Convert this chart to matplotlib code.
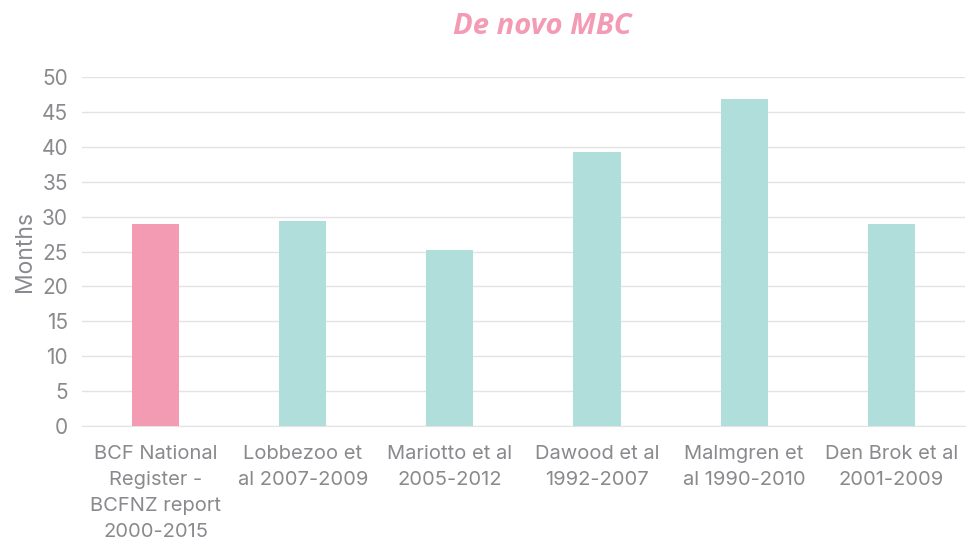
import matplotlib.pyplot as plt

# data
studies = ['BCF National\nRegister -\nBCFNZ report\n2000-2015',
           'Lobbezoo et\nal 2007-2009',
           'Mariotto et al\n2005-2012',
           'Dawood et al\n1992-2007',
           'Malmgren et\nal 1990-2010',
           'Den Brok et al\n2001-2009']
months = [29.0, 29.4, 25.2, 39.2, 46.9, 29.0]
bar_colors = ['#F49BB4', '#B0DFDB', '#B0DFDB', '#B0DFDB', '#B0DFDB', '#B0DFDB']

plt.rcParams['font.family'] = ['Inter', 'DejaVu Sans']
grey = '#8A8A8E'

fig = plt.figure(figsize=(9.68, 5.47), dpi=100)
ax = fig.add_axes([0.0847, 0.2212, 0.912, 0.638])

x = range(len(studies))
ax.bar(x, months, width=0.32, color=bar_colors, zorder=3)

ax.set_xlim(-0.5, len(studies) - 0.5)
ax.set_ylim(0, 50)
ax.set_yticks(range(0, 51, 5))
ax.set_xticks(list(x))
ax.set_xticklabels(studies, fontsize=14.5, color=grey, linespacing=1.55)
ax.tick_params(axis='y', labelsize=15, colors=grey, length=0, pad=10)
ax.tick_params(axis='x', length=0, pad=14)
ax.grid(axis='y', color='#E3E3E3', linewidth=1, zorder=0)
for s in ['top', 'right', 'left']:
    ax.spines[s].set_visible(False)
ax.spines['bottom'].set_color('#E3E3E3')

ax.set_ylabel('Months', fontsize=16.5, color=grey, labelpad=4)

fig.text(0.56, 0.952, 'De novo MBC', fontsize=21, fontweight='bold',
         fontstyle='italic', color='#F49BB4', ha='center', va='center',
         family=['Open Sans', 'DejaVu Sans'])

plt.savefig('out.png', dpi=100)
